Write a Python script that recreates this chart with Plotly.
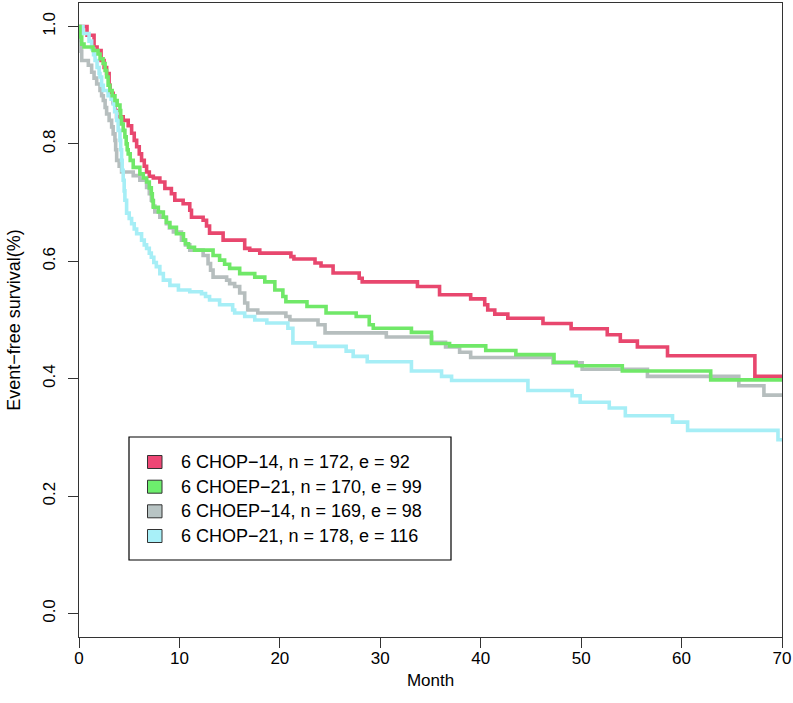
import plotly.graph_objects as go

# ---- data: Kaplan-Meier step curves (months, event-free survival) ----
chop14_t = [0, 0.8, 1.5, 1.8, 2.2, 2.5, 2.75, 3.0, 3.1, 3.4, 3.6, 3.75, 4.4, 4.9, 5.24, 5.5, 5.74, 6.0, 6.23, 6.5, 6.73, 7.0, 7.4, 8.05, 8.55, 9.2, 9.54, 10.37, 11.03, 11.2, 12.36, 12.7, 13.0, 14.35, 16.5, 17.0, 18.0, 21.1, 21.4, 23.5, 24.1, 25.3, 27.9, 28.2, 33.7, 35.9, 39.0, 40.4, 40.7, 41.4, 42.7, 46.2, 49.0, 52.6, 53.9, 55.6, 58.6, 67.3, 70]
chop14_s = [1.0, 0.985, 0.965, 0.959, 0.942, 0.93, 0.92, 0.90, 0.886, 0.87, 0.857, 0.846, 0.84, 0.831, 0.818, 0.806, 0.795, 0.783, 0.772, 0.762, 0.752, 0.745, 0.742, 0.735, 0.724, 0.715, 0.704, 0.698, 0.687, 0.675, 0.67, 0.66, 0.648, 0.636, 0.622, 0.619, 0.614, 0.608, 0.604, 0.597, 0.592, 0.58, 0.571, 0.565, 0.557, 0.543, 0.536, 0.526, 0.517, 0.51, 0.503, 0.494, 0.485, 0.475, 0.464, 0.454, 0.439, 0.404, 0.404]

choep21_t = [0, 0.1, 0.27, 0.5, 1.4, 1.9, 2.1, 2.4, 2.6, 2.75, 2.9, 3.08, 3.3, 3.58, 3.8, 4.08, 4.15, 4.24, 4.4, 4.57, 4.7, 4.8, 4.9, 5.1, 5.4, 6.06, 6.4, 6.73, 7.0, 7.2, 7.3, 7.4, 7.9, 8.4, 8.7, 9.05, 9.7, 10.4, 10.6, 10.9, 11.5, 13.35, 14.0, 14.5, 15.0, 16.0, 17.5, 18.5, 19.5, 20.3, 20.6, 22.7, 24.6, 27.6, 28.9, 29.3, 33.1, 35.1, 36.9, 40.5, 43.5, 47.3, 49.5, 54.1, 62.9, 70]
choep21_s = [1.0, 0.982, 0.97, 0.965, 0.959, 0.953, 0.945, 0.937, 0.925, 0.914, 0.90, 0.891, 0.882, 0.874, 0.866, 0.857, 0.845, 0.834, 0.823, 0.812, 0.80, 0.79, 0.783, 0.772, 0.76, 0.749, 0.742, 0.735, 0.725, 0.715, 0.703, 0.692, 0.684, 0.675, 0.666, 0.658, 0.647, 0.636, 0.63, 0.624, 0.619, 0.61, 0.602, 0.595, 0.588, 0.579, 0.573, 0.565, 0.551, 0.54, 0.531, 0.523, 0.512, 0.506, 0.492, 0.486, 0.479, 0.46, 0.456, 0.448, 0.441, 0.428, 0.422, 0.413, 0.398, 0.398]

choep14_t = [0, 0.1, 0.2, 0.27, 0.93, 1.26, 1.5, 1.76, 2.09, 2.25, 2.42, 2.6, 2.75, 3.0, 3.25, 3.4, 3.58, 3.65, 3.75, 4.0, 4.24, 5.4, 6.06, 6.73, 7.0, 7.2, 7.4, 7.55, 8.05, 8.7, 9.0, 9.4, 10.2, 10.6, 11.03, 12.36, 12.85, 13.1, 13.35, 14.7, 15.0, 15.5, 16.0, 16.5, 16.8, 17.8, 20.6, 21.0, 23.8, 24.5, 30.6, 35.1, 36.5, 37.9, 39.0, 47.2, 50.1, 56.6, 65.7, 68.2, 70]
choep14_s = [1.0, 0.976, 0.958, 0.942, 0.934, 0.922, 0.912, 0.902, 0.891, 0.882, 0.874, 0.862, 0.851, 0.84, 0.829, 0.817, 0.806, 0.79, 0.772, 0.762, 0.752, 0.746, 0.738, 0.726, 0.715, 0.704, 0.694, 0.684, 0.675, 0.664, 0.657, 0.65, 0.636, 0.628, 0.619, 0.61, 0.596, 0.585, 0.573, 0.568, 0.562, 0.557, 0.546, 0.529, 0.517, 0.512, 0.506, 0.5, 0.492, 0.478, 0.471, 0.462, 0.454, 0.445, 0.436, 0.427, 0.416, 0.404, 0.388, 0.372, 0.372]

chop21_t = [0, 0.4, 1.0, 1.26, 1.45, 1.6, 1.8, 2.0, 2.09, 2.25, 2.42, 2.9, 3.2, 3.4, 3.55, 3.75, 3.9, 4.08, 4.15, 4.24, 4.3, 4.4, 4.5, 4.57, 4.74, 5.0, 5.24, 5.5, 5.74, 6.23, 6.5, 6.73, 7.0, 7.2, 7.45, 7.7, 8.05, 8.4, 9.05, 9.9, 11.03, 12.2, 12.6, 13.0, 14.0, 15.3, 15.5, 16.5, 17.5, 18.7, 20.8, 21.3, 23.5, 26.6, 27.3, 28.7, 33.1, 36.1, 37.1, 44.7, 49.1, 49.9, 52.8, 54.4, 59.1, 60.6, 69.6, 70]
chop21_s = [1.0, 0.988, 0.975, 0.962, 0.952, 0.942, 0.93, 0.92, 0.914, 0.90, 0.891, 0.882, 0.876, 0.868, 0.855, 0.84, 0.823, 0.806, 0.79, 0.772, 0.755, 0.738, 0.72, 0.704, 0.682, 0.673, 0.664, 0.655, 0.647, 0.636, 0.628, 0.622, 0.614, 0.607, 0.598, 0.591, 0.579, 0.568, 0.559, 0.551, 0.548, 0.545, 0.54, 0.534, 0.526, 0.517, 0.512, 0.506, 0.5, 0.495, 0.486, 0.461, 0.455, 0.447, 0.438, 0.429, 0.413, 0.404, 0.397, 0.38, 0.371, 0.36, 0.35, 0.337, 0.326, 0.312, 0.296, 0.296]

legend_labels = ["6 CHOP\u221214, n = 172, e = 92",
                 "6 CHOEP\u221221, n = 170, e = 99",
                 "6 CHOEP\u221214, n = 169, e = 98",
                 "6 CHOP\u221221, n = 178, e = 116"]
line_colors = ["#E8476E", "#70E868", "#B6BEBE", "#A6EEF6"]
swatch_colors = ["#EE4775", "#6DEE6D", "#B8C4C4", "#A8F0F8"]

x_ticks = [0, 10, 20, 30, 40, 50, 60, 70]
y_ticks = [0.0, 0.2, 0.4, 0.6, 0.8, 1.0]
y_tick_text = ["0.0", "0.2", "0.4", "0.6", "0.8", "1.0"]

series = [
    (chop14_t, chop14_s),
    (choep21_t, choep21_s),
    (choep14_t, choep14_s),
    (chop21_t, chop21_s),
]

fig = go.Figure()
draw_order = [0, 2, 3, 1]
for i in draw_order:
    t, s = series[i]
    fig.add_trace(go.Scatter(x=t, y=s, mode="lines", line=dict(color=line_colors[i], width=3.6, shape="hv"),
                             name=legend_labels[i], showlegend=False, hoverinfo="skip"))

# ---- geometry (pixels) ----
W, H = 793, 703
L, R, T, B = 79, 11, 3, 66
pw, ph = W - L - R, H - T - B

def px(x):
    return (x - L) / pw

def py(y):
    return (H - B - y) / ph

shapes = []
annotations = []
# legend box
shapes.append(dict(type="rect", xref="paper", yref="paper", x0=px(129), x1=px(451), y0=py(560), y1=py(437),
                   line=dict(color="black", width=1.2), fillcolor="white", layer="above"))
rows = [462, 486.7, 511.3, 536]
for k, lab in enumerate(legend_labels):
    yc = rows[k]
    shapes.append(dict(type="rect", xref="paper", yref="paper", x0=px(147.5), x1=px(162), y0=py(yc + 6.5), y1=py(yc - 6.5),
                       line=dict(color="#333333", width=1), fillcolor=swatch_colors[k], layer="above"))
    annotations.append(dict(xref="paper", yref="paper", x=px(179), y=py(yc), xanchor="left", yanchor="middle",
                            text=lab, showarrow=False, font=dict(size=18, color="black", family="Liberation Sans, Arial, sans-serif")))

fig.update_layout(
    width=W, height=H,
    margin=dict(l=L, r=R, t=T, b=B, pad=0),
    paper_bgcolor="white", plot_bgcolor="white",
    font=dict(family="Liberation Sans, Arial, sans-serif", color="black", size=16),
    shapes=shapes, annotations=annotations,
    showlegend=False,
)
fig.update_xaxes(range=[0, 70], tickvals=x_ticks, ticks="outside", ticklen=10, tickwidth=1, tickcolor="#333",
                 showline=True, linecolor="#333", linewidth=1.2, mirror=True, showgrid=False, zeroline=False,
                 tickfont=dict(size=17), ticklabelstandoff=-5,
                 title=dict(text="Month", standoff=7, font=dict(size=17)),
                 automargin=False)
fig.update_yaxes(range=[-0.04, 1.04], tickvals=y_ticks, ticktext=y_tick_text, tickangle=-90, ticks="outside",
                 ticklen=10, tickwidth=1, tickcolor="#333", ticklabelstandoff=6,
                 showline=True, linecolor="#333", linewidth=1.2, mirror=True, showgrid=False, zeroline=False,
                 tickfont=dict(size=17), title=dict(text="Event\u2212free survival(%)", standoff=14, font=dict(size=18)),
                 automargin=False)

fig.write_html("out.html", config={"displayModeBar": False},
               post_script="document.body.style.margin='0px';document.body.style.padding='0px';")
